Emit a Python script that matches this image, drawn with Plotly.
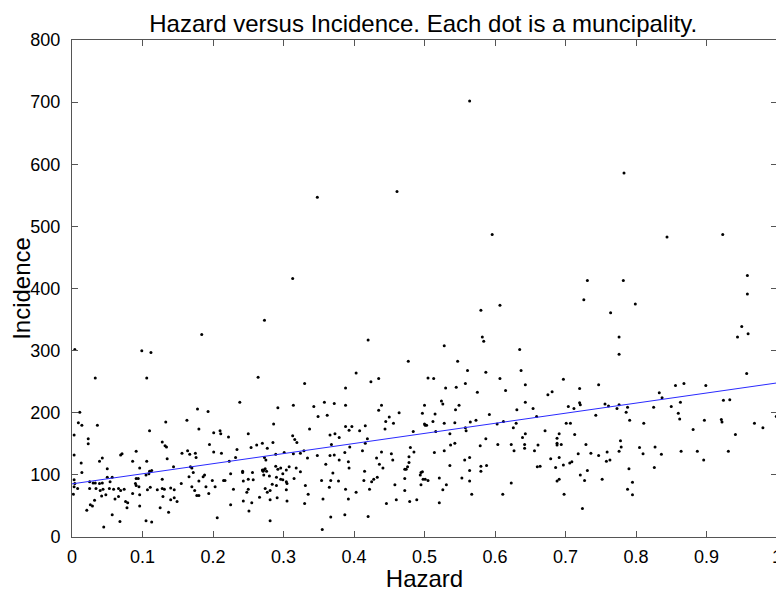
import plotly.graph_objects as go

# Hazard (x) values of each municipality
hazard = [
    # 0.00 - 0.16
    0.004,0.099,0.112,0.033,0.106,0.011,0.009,0.014,0.036,0.003,
    0.110,0.133,0.023,0.023,0.128,0.132,0.134,0.003,0.071,0.069,
    0.091,0.156,0.013,0.039,0.043,0.086,0.106,0.135,0.014,0.050,
    0.096,0.110,0.113,0.144,0.105,0.109,0.003,0.004,0.025,0.030,
    0.033,0.039,0.043,0.050,0.057,0.054,0.091,0.094,0.090,0.091,
    0.095,0.128,0.155,0.003,0.008,0.025,0.034,0.040,0.044,0.053,
    0.059,0.066,0.069,0.074,0.086,0.096,0.107,0.111,0.121,0.128,
    0.131,0.140,0.145,0.002,0.042,0.048,0.061,0.066,0.076,0.079,
    0.096,0.129,0.140,0.145,0.149,0.032,0.026,0.029,0.021,0.078,
    0.125,0.137,0.057,0.068,0.105,0.113,0.045,
    # 0.16 - 0.33
    0.273,0.184,0.264,0.330,0.238,0.178,0.193,0.163,0.292,0.314,
    0.286,0.180,0.201,0.210,0.211,0.222,0.250,0.313,0.316,0.319,
    0.195,0.254,0.262,0.270,0.277,0.285,0.234,0.164,0.167,0.175,
    0.176,0.201,0.212,0.232,0.289,0.301,0.314,0.324,0.329,0.223,
    0.273,0.275,0.168,0.170,0.172,0.188,0.186,0.166,0.180,0.199,
    0.203,0.215,0.217,0.225,0.242,0.242,0.243,0.250,0.256,0.257,
    0.270,0.272,0.274,0.276,0.272,0.271,0.289,0.292,0.296,0.299,
    0.280,0.290,0.296,0.299,0.304,0.305,0.304,0.308,0.318,0.315,
    0.170,0.174,0.190,0.194,0.177,0.180,0.229,0.248,0.250,0.274,
    0.277,0.281,0.284,0.290,0.304,0.266,0.281,0.291,0.243,0.255,
    0.225,0.305,0.330,0.251,0.206,0.281,
    # 0.33 - 0.50
    0.420,0.477,0.403,0.424,0.435,0.388,0.343,0.358,0.372,0.388,
    0.349,0.362,0.435,0.439,0.464,0.450,0.445,0.456,0.500,0.497,
    0.500,0.501,0.337,0.388,0.393,0.397,0.416,0.408,0.366,0.373,
    0.379,0.444,0.419,0.368,0.394,0.416,0.484,0.334,0.348,0.366,
    0.372,0.412,0.439,0.453,0.455,0.480,0.485,0.379,0.387,0.360,
    0.392,0.393,0.432,0.436,0.441,0.478,0.478,0.476,0.472,0.474,
    0.324,0.415,0.370,0.425,0.428,0.433,0.414,0.354,0.367,0.378,
    0.331,0.365,0.388,0.403,0.422,0.458,0.472,0.472,0.494,0.495,
    0.497,0.498,0.495,0.335,0.356,0.392,0.446,0.460,0.479,0.489,
    0.367,0.387,0.420,0.355,
    # 0.50 - 0.67
    0.607,0.580,0.582,0.584,0.528,0.635,0.547,0.637,0.561,0.505,
    0.513,0.587,0.607,0.530,0.545,0.558,0.643,0.575,0.615,0.524,
    0.526,0.549,0.544,0.515,0.592,0.631,0.643,0.654,0.503,0.512,
    0.528,0.543,0.565,0.573,0.558,0.559,0.603,0.612,0.626,0.630,
    0.659,0.516,0.536,0.639,0.643,0.587,0.543,0.537,0.579,0.604,
    0.623,0.627,0.642,0.642,0.661,0.656,0.528,0.514,0.557,0.564,
    0.536,0.580,0.580,0.588,0.564,0.660,0.664,0.501,0.505,0.521,
    0.553,0.564,0.623,0.531,0.526,0.567,0.611,0.521,
    # 0.67 - 0.84
    0.731,0.782,0.726,0.799,0.764,0.776,0.776,0.697,0.675,0.681,
    0.720,0.747,0.704,0.712,0.720,0.721,0.756,0.761,0.773,0.776,
    0.788,0.833,0.837,0.825,0.743,0.786,0.791,0.701,0.707,0.811,
    0.671,0.691,0.688,0.688,0.688,0.694,0.713,0.729,0.778,0.779,
    0.776,0.805,0.827,0.836,0.810,0.718,0.736,0.747,0.759,0.679,
    0.691,0.758,0.763,0.686,0.697,0.706,0.709,0.790,0.826,0.731,
    0.721,0.688,0.691,0.727,0.752,0.795,0.788,0.795,0.698,0.724,
    # 0.84 - 1.00
    0.958,0.950,0.959,0.944,0.957,0.856,0.868,0.899,0.863,0.850,
    0.924,0.933,0.860,0.862,0.897,0.921,0.922,0.999,0.881,0.968,
    0.980,0.941,0.864,0.887,0.931,0.896,
    # outliers
    0.313,0.564,0.348,0.461,0.596,0.783,0.844,0.923,0.958,
]

# Incidence (y) values of each municipality
incidence = [
    302,300,297,256,256,201,184,180,180,164,
    171,185,158,150,153,147,145,132,134,132,
    138,135,119,122,127,122,122,126,104,110,
    111,106,107,113,100,102,92,86,89,87,
    87,86,87,96,96,89,94,94,86,83,
    81,93,86,81,78,78,78,75,77,78,
    77,78,75,77,70,68,76,80,76,78,
    77,79,76,69,66,68,61,65,57,55,
    50,65,60,63,57,59,52,50,43,47,
    47,40,36,25,26,24,16,
    349,326,257,247,217,206,202,188,208,212,
    182,174,168,171,166,161,166,163,157,152,
    149,144,148,151,143,152,141,139,133,135,
    128,137,135,128,133,136,134,135,139,122,
    128,124,113,111,104,100,97,97,90,91,
    81,91,91,102,106,104,90,93,104,92,
    108,108,110,106,100,106,114,109,111,102,
    98,96,93,92,89,86,108,113,111,94,
    81,75,81,70,67,67,77,72,77,78,
    72,75,85,83,76,64,60,63,58,55,
    52,58,54,42,31,26,
    317,283,264,250,255,240,210,217,215,212,
    194,196,204,212,200,193,186,183,212,199,
    182,180,174,178,172,178,179,171,164,166,
    160,174,158,149,145,151,170,127,131,131,
    132,139,137,134,124,144,137,124,136,117,
    121,111,127,117,111,129,120,113,109,109,
    105,106,103,89,93,96,91,91,91,90,
    83,80,77,72,77,84,94,75,100,104,
    105,93,84,69,61,61,54,60,57,60,
    32,36,33,12,
    373,365,322,315,308,302,283,268,268,256,
    255,265,255,240,241,247,245,233,236,219,
    214,212,205,198,197,205,217,207,180,186,
    183,184,185,188,176,171,182,186,176,183,
    194,170,166,160,166,158,151,148,147,149,
    149,139,149,143,148,139,139,136,124,128,
    115,114,106,115,107,113,114,93,91,95,
    95,90,87,84,76,69,69,55,
    413,413,382,375,361,322,294,254,229,234,
    239,245,210,207,216,213,214,211,207,213,
    209,232,224,209,196,201,188,183,183,183,
    171,166,159,151,148,149,165,149,155,145,
    138,144,145,133,134,134,135,131,137,126,
    128,122,124,112,116,119,121,110,112,107,
    100,90,93,91,93,88,77,68,69,46,
    391,339,327,322,263,244,247,244,217,210,
    220,221,199,190,188,189,185,194,173,183,
    176,165,138,138,138,124,
    416,702,547,556,487,586,483,487,421,
]

# Fitted regression line end points
fit_hazard = [0.0, 1.0]
fit_incidence = [85.5, 248.0]

x_tick_vals = [0, 0.1, 0.2, 0.3, 0.4, 0.5, 0.6, 0.7, 0.8, 0.9, 1]
x_tick_text = ["0", "0.1", "0.2", "0.3", "0.4", "0.5", "0.6", "0.7", "0.8", "0.9", "1"]
y_tick_vals = [0, 100, 200, 300, 400, 500, 600, 700, 800]

FONT = "Liberation Sans, Arial, Helvetica, sans-serif"

fig = go.Figure()
fig.add_trace(go.Scatter(
    x=hazard, y=incidence, mode="markers",
    marker=dict(color="black", size=3, line=dict(width=0)),
    showlegend=False, hoverinfo="x+y",
))
fig.add_trace(go.Scatter(
    x=fit_hazard, y=fit_incidence, mode="lines",
    line=dict(color="#2a2aff", width=1),
    showlegend=False,
))

axis_common = dict(
    showgrid=False, zeroline=False, showline=True, linecolor="#555",
    linewidth=1, mirror="ticks", ticks="inside", ticklen=6,
    tickcolor="#555", automargin=False, ticklabeloverflow="allow",
    tickfont=dict(family=FONT, size=18, color="black"),
)

# The page body adds an 8px offset, so the figure is 8px smaller than the window
fig.update_layout(
    width=776, height=584,
    margin=dict(l=64, r=7, t=32, b=55),
    paper_bgcolor="white", plot_bgcolor="white",
    font=dict(family=FONT, color="black"),
    title=dict(text="Hazard versus Incidence. Each dot is a muncipality.",
               x=0.535, xanchor="center", y=0.988, yanchor="top",
               pad=dict(t=0, b=0),
               font=dict(family=FONT, size=24, color="black")),
    xaxis=dict(range=[0, 1], tickvals=x_tick_vals, ticktext=x_tick_text,
               ticklabelstandoff=3,
               title=dict(text="Hazard", font=dict(family=FONT, size=24), standoff=3),
               **axis_common),
    yaxis=dict(range=[0, 800], tickvals=y_tick_vals,
               ticklabelstandoff=7,
               title=dict(text="Incidence", font=dict(family=FONT, size=24), standoff=9),
               **axis_common),
)

fig.write_html("out.html")
